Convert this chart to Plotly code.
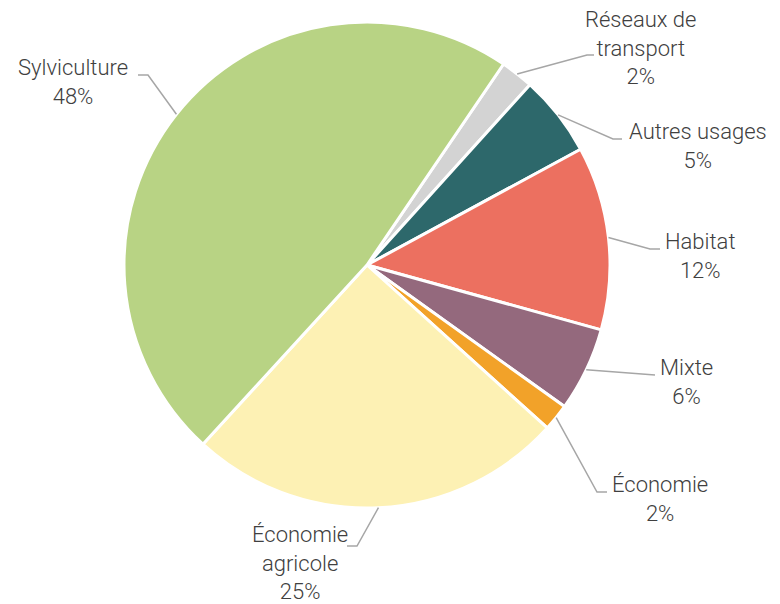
import math
import plotly.graph_objects as go

# ---- data ----
categories = ["Réseaux de transport", "Autres usages", "Habitat", "Mixte",
              "Économie", "Économie agricole", "Sylviculture"]
label_text = ["Réseaux de<br>transport", "Autres usages", "Habitat", "Mixte",
              "Économie", "Économie<br>agricole", "Sylviculture"]
values = [2.2, 5.4, 12.2, 5.6, 1.8, 25.1, 47.7]
colors = ["#d3d3d3", "#2d686b", "#ec7060", "#94697d", "#f2a229", "#fdf1b4", "#b8d384"]

# ---- layout params ----
W, H = 780, 604
L, T, S = 124, 22, 486          # left margin, top margin, plot size (square)
R_MARGIN = W - L - S
B_MARGIN = H - T - S
START_ANGLE = 34.2              # degrees clockwise from 12 o'clock

# label block centres (px) and leader elbow/end points (px)
label_centers = [(640, 48), (698, 146), (700, 256), (686, 382), (660, 499), (300, 563), (73, 82)]
elbows = [(587, 55), (613, 139), (650, 249), (655, 375), (597, 492), (357, 546), (148, 75)]
ends = [(594, 55), (622, 139), (660, 249), (655, 375), (607, 492), (347, 546), (138, 75)]


def px_to_paper(x, y):
    return (x - L) / S, 1 - (y - T) / S


fig = go.Figure(go.Pie(
    labels=categories, values=values, sort=False, direction="clockwise",
    rotation=START_ANGLE, textinfo="none", hoverinfo="label+percent",
    marker=dict(colors=colors, line=dict(color="white", width=3)),
    showlegend=False,
))

total = sum(values)
cum = 0.0
shapes = []
annotations = []
for i, v in enumerate(values):
    mid = START_ANGLE + 360 * (cum + v / 2) / total
    cum += v
    a = math.radians(mid)
    sx, sy = 0.5 + 0.5 * math.sin(a), 0.5 + 0.5 * math.cos(a)
    ex, ey = px_to_paper(*elbows[i])
    fx, fy = px_to_paper(*ends[i])
    shapes.append(dict(type="path", xref="paper", yref="paper",
                       path=f"M {sx},{sy} L {ex},{ey} L {fx},{fy}",
                       line=dict(color="#a6a6a6", width=1.5)))
    cx, cy = px_to_paper(*label_centers[i])
    pct = round(100 * v / total)
    annotations.append(dict(x=cx, y=cy, xref="paper", yref="paper",
                            text=f"{label_text[i]}<br>{pct}%", showarrow=False,
                            xanchor="center", yanchor="middle", align="center",
                            font=dict(family="Roboto", size=22, color="#404040",
                                      weight=300)))

fig.update_layout(
    width=W, height=H,
    margin=dict(l=L, r=R_MARGIN, t=T, b=B_MARGIN, pad=0),
    paper_bgcolor="white", plot_bgcolor="white",
    shapes=shapes, annotations=annotations,
)
fig.write_html("out.html", config={"displayModeBar": False},
               post_script="document.body.style.margin='0';document.body.style.padding='0';")
